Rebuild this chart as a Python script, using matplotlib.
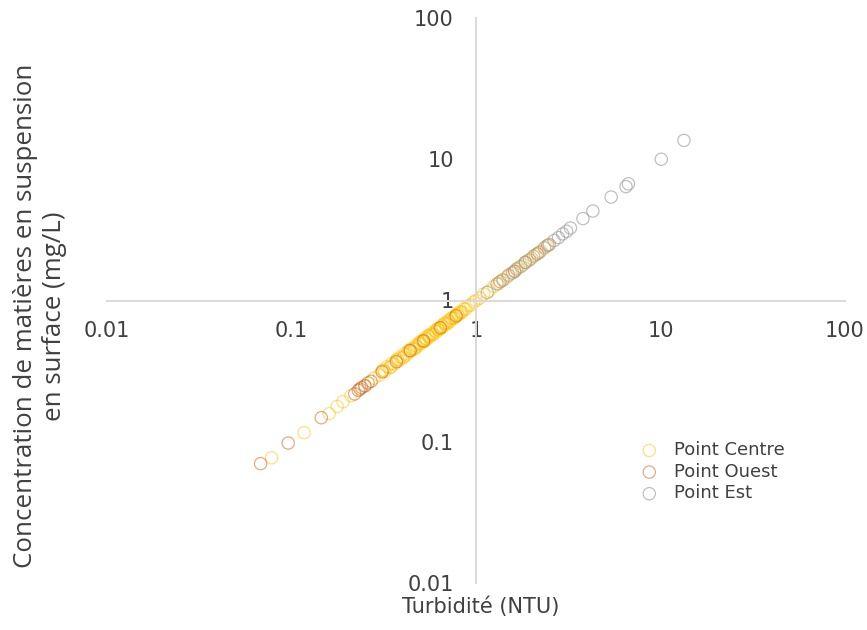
import matplotlib
matplotlib.use("Agg")
import matplotlib.pyplot as plt
from matplotlib.ticker import FixedLocator, FixedFormatter, NullLocator

# Turbidity (NTU) vs surface suspended-matter concentration (mg/L)
centre_x = [0.078, 0.117, 0.16, 0.177, 0.19, 0.21, 0.25, 0.28, 0.30, 0.31, 0.32,
            0.33, 0.34, 0.35, 0.36, 0.37, 0.38, 0.39, 0.40, 0.41, 0.42, 0.43,
            0.44, 0.45, 0.46, 0.47, 0.48, 0.49, 0.50, 0.51, 0.52, 0.53, 0.54,
            0.55, 0.56, 0.57, 0.58, 0.60, 0.61, 0.62, 0.63, 0.65, 0.66, 0.68,
            0.69, 0.71, 0.72, 0.74, 0.76, 0.78, 0.80, 0.82, 0.84, 0.86, 0.88,
            0.91, 0.94, 0.97, 1.00, 1.05, 1.10, 1.18, 1.25, 1.33, 1.40, 1.48,
            1.55, 1.62, 1.70, 1.80, 1.90, 2.00, 2.10, 2.25, 2.40,
            0.315, 0.345, 0.375, 0.405, 0.435, 0.465, 0.495, 0.525, 0.555,
            0.585, 0.615, 0.645, 0.675, 0.705, 0.735, 0.765, 0.795, 0.83]
centre_y = [0.077, 0.116, 0.158, 0.178, 0.192, 0.212, 0.248, 0.282, 0.296, 0.318,
            0.314, 0.340, 0.334, 0.358, 0.354, 0.378, 0.372, 0.399, 0.392, 0.420,
            0.412, 0.440, 0.434, 0.458, 0.452, 0.480, 0.472, 0.498, 0.492, 0.520,
            0.512, 0.540, 0.532, 0.560, 0.552, 0.580, 0.572, 0.610, 0.600, 0.630,
            0.620, 0.662, 0.650, 0.692, 0.680, 0.722, 0.710, 0.752, 0.748, 0.792,
            0.788, 0.832, 0.828, 0.872, 0.868, 0.918, 0.930, 0.975, 1.00, 1.04,
            1.11, 1.17, 1.26, 1.32, 1.41, 1.47, 1.56, 1.61, 1.71, 1.79, 1.91,
            1.99, 2.11, 2.24, 2.41,
            0.322, 0.338, 0.384, 0.396, 0.444, 0.456, 0.506, 0.516, 0.566,
            0.576, 0.626, 0.634, 0.688, 0.694, 0.748, 0.756, 0.808, 0.818]

ouest_x = [0.068, 0.096, 0.145, 0.22, 0.23, 0.235, 0.24, 0.25, 0.26, 0.27,
           0.31, 0.37, 0.44, 0.52, 0.64, 0.78, 1.35, 1.62, 1.85, 2.15, 2.45]
ouest_y = [0.070, 0.098, 0.148, 0.218, 0.231, 0.236, 0.242, 0.249, 0.261, 0.268,
           0.312, 0.368, 0.442, 0.518, 0.642, 0.778, 1.36, 1.61, 1.86, 2.14, 2.46]

est_x = [1.15, 1.30, 1.40, 1.50, 1.58, 1.66, 1.75, 1.85, 1.95, 2.05, 2.20, 2.35,
         2.50, 2.65, 2.80, 2.95, 3.10, 3.25, 3.8, 4.3, 5.4, 6.5, 6.7, 10.1, 13.4]
est_y = [1.14, 1.31, 1.39, 1.51, 1.57, 1.67, 1.74, 1.86, 1.94, 2.06, 2.19, 2.36,
         2.49, 2.66, 2.79, 2.96, 3.09, 3.26, 3.8, 4.3, 5.4, 6.4, 6.7, 10.0, 13.6]

tick_values = [0.01, 0.1, 1, 10, 100]
tick_labels = ["0.01", "0.1", "1", "10", "100"]
series_labels = ["Point Centre", "Point Ouest", "Point Est"]

TEXT = "#404040"
plt.rcParams["font.family"] = ["DejaVu Sans"]

fig = plt.figure(figsize=(8.67, 6.30), dpi=100)
ax = fig.add_axes([107 / 867, 47 / 630, 738 / 867, 565 / 630])

marker_kw = dict(s=78, facecolors="none", linewidths=0.9)
ax.scatter(centre_x, centre_y, edgecolors="#FFC000", alpha=0.5, **marker_kw)
ax.scatter(ouest_x, ouest_y, edgecolors="#C55A11", alpha=0.5, **marker_kw)
ax.scatter(est_x, est_y, edgecolors="#A5A5A5", alpha=0.7, **marker_kw)

ax.set_xscale("log")
ax.set_yscale("log")
ax.set_xlim(0.01, 100)
ax.set_ylim(0.01, 100)

for axis in (ax.xaxis, ax.yaxis):
    axis.set_major_locator(FixedLocator(tick_values))
    axis.set_major_formatter(FixedFormatter(tick_labels))
    axis.set_minor_locator(NullLocator())

# axes cross at (1, 1)
ax.spines["left"].set_position(("data", 1))
ax.spines["bottom"].set_position(("data", 1))
ax.spines["top"].set_visible(False)
ax.spines["right"].set_visible(False)
for side in ("left", "bottom"):
    ax.spines[side].set_color("#D9D9D9")
    ax.spines[side].set_linewidth(1.4)

ax.tick_params(axis="x", length=0, pad=15, labelsize=15, labelcolor=TEXT)
ax.tick_params(axis="y", length=0, pad=16, labelsize=15, labelcolor=TEXT)

fig.text(481 / 867, 1 - 607 / 630, "Turbidité (NTU)", ha="center", va="center",
         fontsize=15, color=TEXT)
fig.text(40 / 867, 1 - 316 / 630,
         "Concentration de matières en suspension\nen surface (mg/L)",
         ha="center", va="center", rotation=90, fontsize=18.6, color=TEXT,
         family=["Open Sans", "DejaVu Sans"], linespacing=1.2)

leg = fig.legend(handles=ax.collections, labels=series_labels,
                 loc="upper left", bbox_to_anchor=(624 / 867, 1 - 434 / 630),
                 frameon=False, fontsize=13, handletextpad=0.35,
                 labelspacing=0.2, borderaxespad=0)
for t in leg.get_texts():
    t.set_color(TEXT)

fig.savefig("out.png", dpi=100)
